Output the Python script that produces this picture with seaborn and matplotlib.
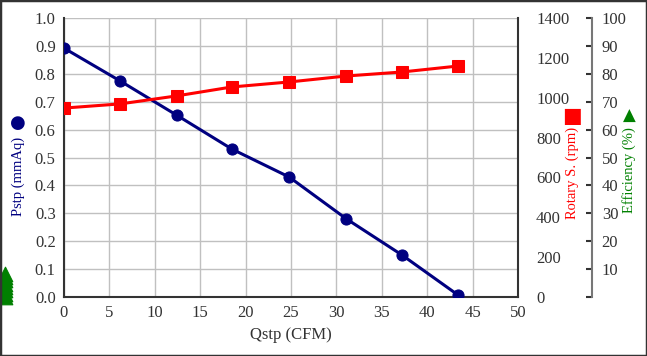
import matplotlib
matplotlib.use('Agg')
import matplotlib.pyplot as plt
import numpy as np
import pandas as pd
import seaborn as sns
from matplotlib.patches import Rectangle

sns.set_style('white')
plt.rcParams['font.family'] = ['Liberation Serif', 'DejaVu Sans']

# data
qstp = [0.0, 6.2, 12.4, 18.5, 24.8, 31.1, 37.2, 43.4]
pstp = [0.892, 0.774, 0.652, 0.530, 0.430, 0.280, 0.151, 0.007]
rpm = [948, 969, 1009, 1054, 1079, 1109, 1129, 1159]
# efficiency markers sit stacked left of the plot in the reference
eff_q = [-6.5, -6.5, -6.5, -6.5, -6.5, -6.5, -6.5, -6.5]
eff = [0.0, 1.2, 2.4, 3.6, 4.8, 6.0, 7.0, 8.2]

df = pd.DataFrame({'q': qstp, 'p': pstp, 'rpm': rpm})
df_eff = pd.DataFrame({'q': eff_q, 'eff': eff})

NAVY = '#000080'
RED = '#ff0000'
GREEN = '#008000'

fig = plt.figure(figsize=(6.47, 3.56), dpi=100)
ax = fig.add_axes([64 / 647, 59 / 356, 454 / 647, 279 / 356])

sns.lineplot(data=df, x='q', y='p', ax=ax, color=NAVY, lw=2.2, marker='o',
             markersize=8, markeredgecolor=NAVY, zorder=5)
ax.set_xlim(0, 50)
ax.set_ylim(0, 1.0)
ax.set_xticks(np.arange(0, 51, 5))
ax.set_yticks(np.arange(0, 1.01, 0.1))
ax.set_yticklabels([f'{v:.1f}' for v in np.arange(0, 1.01, 0.1)])
ax.grid(True, color='#c0c0c0', lw=1)
ax.tick_params(length=0, labelsize=12, colors='#333333', pad=6)
ax.set_xlabel('Qstp (CFM)', fontsize=12, color='#333333', labelpad=4)
ax.set_ylabel('')
for s in ['left', 'bottom']:
    ax.spines[s].set_color('#333333')
    ax.spines[s].set_linewidth(1.5)
ax.spines['top'].set_visible(False)
ax.spines['right'].set_color('#333333')
ax.spines['right'].set_linewidth(1.5)

ax2 = ax.twinx()
sns.lineplot(data=df, x='q', y='rpm', ax=ax2, color=RED, lw=2.2, marker='s',
             markersize=8, markeredgecolor=RED, zorder=5)
ax2.set_ylim(0, 1400)
ax2.set_yticks(np.arange(0, 1401, 200))
ax2.tick_params(length=0, labelsize=12, colors='#333333', pad=13)
ax2.set_ylabel('')
for s in ['left', 'bottom', 'top', 'right']:
    ax2.spines[s].set_visible(False)

ax3 = ax.twinx()
ax3.spines['right'].set_position(('axes', 1.163))
sns.scatterplot(data=df_eff, x='q', y='eff', ax=ax3, color=GREEN, marker='^',
                s=110, edgecolor=GREEN, clip_on=False, zorder=6)
ax3.set_xlim(0, 50)
ax3.set_ylim(0, 100)
ax3.set_yticks(np.arange(0, 101, 10))
ax3.set_yticklabels([''] + [str(v) for v in range(10, 101, 10)])
ax3.tick_params(direction='in', length=4, width=1.5, color='#333333',
                labelsize=12, labelcolor='#333333', pad=7)
ax3.set_ylabel('')
for s in ['left', 'bottom', 'top']:
    ax3.spines[s].set_visible(False)
ax3.spines['right'].set_color('#777777')
ax3.spines['right'].set_linewidth(1.5)
for c in ax3.collections:
    c.set_clip_on(False)

# axis titles with their series marks
fig.text(18 / 647, 1 - 176 / 356, 'Pstp (mmAq)', rotation=90, color=NAVY,
         fontsize=10.5, ha='center', va='center')
fig.text(18 / 647, 1 - 123 / 356, '●', color=NAVY, fontsize=13,
         ha='center', va='center', family='DejaVu Sans')
fig.text(572 / 647, 1 - 173 / 356, 'Rotary S. (rpm)', rotation=90, color=RED,
         fontsize=10.5, ha='center', va='center')
fig.text(572 / 647, 1 - 116 / 356, '■', color=RED, fontsize=15,
         ha='center', va='center', family='DejaVu Sans')
fig.text(629 / 647, 1 - 170 / 356, 'Efficiency (%)', rotation=90, color=GREEN,
         fontsize=10.5, ha='center', va='center')
fig.text(629 / 647, 1 - 116 / 356, '▲', color=GREEN, fontsize=12,
         ha='center', va='center', family='DejaVu Sans')

fig.patches.append(Rectangle((0, 0), 1, 1, transform=fig.transFigure,
                             fill=False, edgecolor='#333333', lw=2.5))

fig.savefig('out.png', dpi=100)
